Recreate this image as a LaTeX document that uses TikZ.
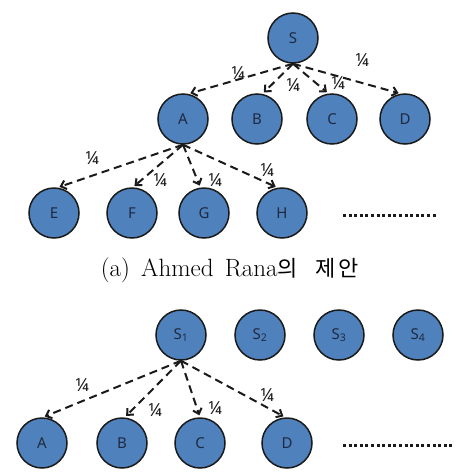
\documentclass[tikz,border=0pt]{standalone}
\usepackage{fontspec}
\usepackage{tikz}
\usetikzlibrary{arrows.meta}
\newfontfamily\knotenfont{Noto Sans}
\newfontfamily\hangulfont{Noto Sans CJK KR}
\definecolor{blau}{HTML}{4F81BD}
\definecolor{rand}{HTML}{1A1A1A}
\definecolor{tinte}{HTML}{1F2A40}
\tikzset{
  kreis/.style={circle,fill=blau,draw=rand,line width=1.5pt,minimum size=50pt,inner sep=0pt,text=tinte,font=\knotenfont\fontsize{15}{15}\selectfont},
  pfeil/.style={-{Straight Barb[length=5pt,width=9pt]},dash pattern=on 8pt off 5pt,line width=2pt,rand,shorten >=2pt},
  bruch/.style={inner sep=0pt,text=rand,font=\knotenfont\fontsize{18}{18}\selectfont},
  punkte/.style={rand,line width=3pt,dash pattern=on 3pt off 2.6pt},
}

\begin{document}
\begin{tikzpicture}[x=1pt,y=-1pt]
  \useasboundingbox (0,0) rectangle (459,472);
  % (a) Baum mit S
  \node[kreis] (s) at (293,38) {S};
  \node[kreis] (a) at (183,119) {A};
  \node[kreis] (b) at (257,119) {B};
  \node[kreis] (c) at (332,119) {C};
  \node[kreis] (d) at (405,119) {D};
  \node[kreis] (e) at (54,213) {E};
  \node[kreis] (f) at (132,213) {F};
  \node[kreis] (g) at (204,213) {G};
  \node[kreis] (h) at (282,213) {H};
  \draw[pfeil] (s.south) -- (a.78);
  \draw[pfeil] (s.south) -- (b.78);
  \draw[pfeil] (s.south) -- (c.98);
  \draw[pfeil] (s.south) -- (d.100);
  \node[bruch] (psa) at (238,73) {¼};
  \node[bruch] (psb) at (293,85) {¼};
  \node[bruch] (psc) at (338,83) {¼};
  \node[bruch] (psd) at (362,60) {¼};
  \draw[pfeil] (a.south) -- (e.82);
  \draw[pfeil] (a.south) -- (f.88);
  \draw[pfeil] (a.south) -- (g.98);
  \draw[pfeil] (a.south) -- (h.100);
  \node[bruch] (pae) at (92,158) {¼};
  \node[bruch] (paf) at (160,180) {¼};
  \node[bruch] (pag) at (215,180) {¼};
  \node[bruch] (pah) at (267,170) {¼};
  \coordinate (ra) at (343,215);
  \coordinate (rb) at (437,215);
  \draw[punkte] (ra) -- (rb);
  \node[inner sep=0pt,font=\fontsize{25}{25}\selectfont] (capa) at (230,270) {(a)\hspace{0.45em}Ahmed\hspace{0.45em}Rana{\hangulfont\fontsize{22}{22}\selectfont 의\hspace{0.8em}제\hspace{0.15em}안}};
  % (b) mehrere Quellen
  \node[kreis] (s1) at (181,335) {S\textsubscript{1}};
  \node[kreis] (s2) at (260,335) {S\textsubscript{2}};
  \node[kreis] (s3) at (339,335) {S\textsubscript{3}};
  \node[kreis] (s4) at (418,335) {S\textsubscript{4}};
  \node[kreis] (ba) at (42,443) {A};
  \node[kreis] (bb) at (122,443) {B};
  \node[kreis] (bc) at (200,443) {C};
  \node[kreis] (bd) at (287,443) {D};
  \draw[pfeil] (s1.south) -- (ba.88);
  \draw[pfeil] (s1.south) -- (bb.84);
  \draw[pfeil] (s1.south) -- (bc.90);
  \draw[pfeil] (s1.south) -- (bd.94);
  \node[bruch] (pba) at (82,385) {¼};
  \node[bruch] (pbb) at (155,410) {¼};
  \node[bruch] (pbc) at (215,408) {¼};
  \node[bruch] (pbd) at (267,395) {¼};
  \coordinate (rc) at (343,445);
  \coordinate (rd) at (453,445);
  \draw[punkte] (rc) -- (rd);
\end{tikzpicture}
\end{document}
